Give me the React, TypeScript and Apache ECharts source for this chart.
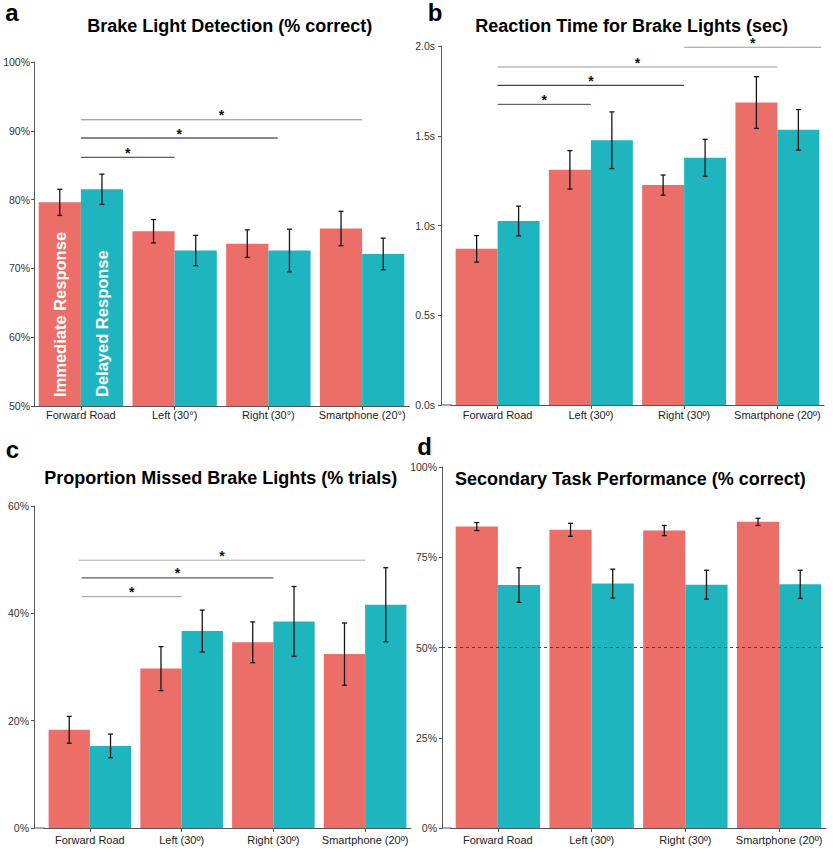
import React, { useEffect, useRef } from "react";
import * as echarts from "echarts";

// ---------- data ----------
const seriesNames = ["Immediate Response", "Delayed Response"];
const categoriesA = ["Forward Road", "Left (30°)", "Right (30°)", "Smartphone (20°)"];
const categoriesB = ["Forward Road", "Left (30º)", "Right (30º)", "Smartphone (20º)"];

// a: Brake Light Detection (% correct)
const detectImmediate = [79.6, 75.4, 73.6, 75.8];
const detectImmediateErr = [1.9, 1.7, 2.0, 2.5];
const detectDelayed = [81.5, 72.6, 72.6, 72.1];
const detectDelayedErr = [2.2, 2.2, 3.1, 2.3];
const detectTicks = [50, 100, 10];

// b: Reaction Time for Brake Lights (sec)
const rtImmediate = [0.87, 1.31, 1.225, 1.685];
const rtImmediateErr = [0.074, 0.107, 0.056, 0.144];
const rtDelayed = [1.025, 1.475, 1.377, 1.533];
const rtDelayedErr = [0.083, 0.158, 0.103, 0.113];
const rtTicks = [0, 2, 0.5];

// c: Proportion Missed Brake Lights (% trials)
const missImmediate = [18.3, 29.7, 34.6, 32.4];
const missImmediateErr = [2.5, 4.1, 3.8, 5.8];
const missDelayed = [15.3, 36.7, 38.5, 41.6];
const missDelayedErr = [2.2, 3.9, 6.5, 6.9];
const missTicks = [0, 60, 20];

// d: Secondary Task Performance (% correct)
const secImmediate = [83.5, 82.6, 82.4, 84.8];
const secImmediateErr = [1.1, 1.8, 1.4, 1.0];
const secDelayed = [67.3, 67.7, 67.4, 67.5];
const secDelayedErr = [4.8, 4.0, 4.0, 3.9];
const secTicks = [0, 100, 25];
const secChance = 50;

// significance brackets: [from category, to category, value]
const sigA = [[0, 1, 86.15], [0, 2.1, 88.95], [0, 3, 91.6]];
const sigB = [[0, 1, 1.675], [0, 2, 1.781], [0, 3, 1.883], [2, 3.47, 1.993]];
const sigC = [[-0.09, 1, 43.1], [-0.09, 2, 46.6], [-0.12, 3, 49.9]];

const titles = [
  "Brake Light Detection (% correct)",
  "Reaction Time for Brake Lights (sec)",
  "Proportion Missed Brake Lights (% trials)",
  "Secondary Task Performance (% correct)",
];
const panelLetters = ["a", "b", "c", "d"];

// ---------- styles ----------
const FONT = '"Liberation Sans", Arial, Helvetica, sans-serif';
const RED = "#EC6E68";
const TEAL = "#1EB5BF";
const AXIS = "#555555";

const grids = [
  { left: 34, top: 62, width: 375, height: 344 },
  { left: 451, top: 46, width: 373, height: 359 },
  { left: 44, top: 506, width: 367, height: 322 },
  { left: 451, top: 467, width: 375, height: 361 },
];
const yOffsets = [0, 10, 10, 9];
const yLabelMargins = [4, 6, 5, 5];
const xLabelMargins = [3, 4, 6, 6];
const titlePos = [[229.7, 25.5], [631.7, 25.5], [220.8, 477.8], [630.3, 479.1]];
const letterPos = [[12, 12.7], [435, 12], [12.5, 449], [424.5, 446]];
const bracketColors = [
  ["#333333", "#111111", "#888888"],
  ["#444444", "#111111", "#999999", "#999999"],
  ["#999999", "#333333", "#aaaaaa"],
];

function txtStyle(text: string, font: string, fill: string) {
  return {
    text,
    font,
    fill,
    align: "center",
    verticalAlign: "middle",
    textAlign: "center",
    textVerticalAlign: "middle",
  };
}

function barSeries(g: number, name: string, values: number[], color: string, withLabel: boolean) {
  return {
    type: "bar",
    name,
    xAxisIndex: g,
    yAxisIndex: g,
    barGap: "0%",
    barCategoryGap: "10%",
    itemStyle: { color },
    z: 2,
    data: values.map((v, i) =>
      withLabel && i === 0
        ? {
            value: v,
            label: {
              show: true,
              formatter: "{a}",
              position: "insideBottom",
              rotate: 90,
              align: "left",
              verticalAlign: "middle",
              distance: 9,
              color: "#ffffff",
              fontWeight: "bold",
              fontSize: 16.5,
              fontFamily: FONT,
            },
          }
        : v
    ),
  };
}

function errSeries(g: number, values: number[], errs: number[], side: number) {
  return {
    type: "custom",
    xAxisIndex: g,
    yAxisIndex: g,
    z: 6,
    silent: true,
    encode: { x: 0, y: [1, 2] },
    data: values.map((v, i) => [i, v - errs[i], v + errs[i]]),
    renderItem: (params: any, api: any) => {
      const i = api.value(0);
      const pLo = api.coord([i, api.value(1)]);
      const pHi = api.coord([i, api.value(2)]);
      const band = api.size([1, 0])[0];
      const x = pLo[0] + side * 0.225 * band;
      const w = 2.5;
      const st = { stroke: "#151515", lineWidth: 1.3 };
      return {
        type: "group",
        children: [
          { type: "line", shape: { x1: x, y1: pLo[1], x2: x, y2: pHi[1] }, style: st },
          { type: "line", shape: { x1: x - w, y1: pLo[1], x2: x + w, y2: pLo[1] }, style: st },
          { type: "line", shape: { x1: x - w, y1: pHi[1], x2: x + w, y2: pHi[1] }, style: st },
        ],
      };
    },
  };
}

function bracketSeries(g: number, brackets: number[][], colors: string[]) {
  return {
    type: "custom",
    xAxisIndex: g,
    yAxisIndex: g,
    z: 7,
    silent: true,
    data: brackets.map((b) => [0, b[2]]),
    renderItem: (params: any, api: any) => {
      const b = brackets[params.dataIndex];
      const c0 = api.coord([0, b[2]]);
      const band = api.size([1, 0])[0];
      const x1 = c0[0] + b[0] * band;
      const x2 = c0[0] + b[1] * band;
      const y = c0[1];
      return {
        type: "group",
        children: [
          {
            type: "line",
            shape: { x1, y1: y, x2, y2: y },
            style: { stroke: colors[params.dataIndex], lineWidth: 1 },
          },
          {
            type: "text",
            x: (x1 + x2) / 2,
            y: y - 4.5,
            style: txtStyle("*", "bold 14px " + FONT, "#111111"),
          },
        ],
      };
    },
  };
}

// extends the x axis line leftwards to the offset y axis; optional dashed reference line
function axisPatchSeries(g: number, yMin: number, offset: number, refValue: number | null) {
  const items: number[][] = [[0, yMin]];
  if (refValue !== null) items.push([0, refValue]);
  return {
    type: "custom",
    xAxisIndex: g,
    yAxisIndex: g,
    z: 4,
    silent: true,
    data: items,
    renderItem: (params: any, api: any) => {
      const p = api.coord([0, api.value(1)]);
      const band = api.size([1, 0])[0];
      const start = p[0] - band / 2 - offset;
      if (params.dataIndex === 0) {
        return {
          type: "line",
          shape: { x1: start, y1: p[1], x2: p[0] - band / 2 + 1, y2: p[1] },
          style: { stroke: AXIS, lineWidth: 1 },
        };
      }
      return {
        type: "line",
        shape: { x1: start, y1: p[1], x2: p[0] + 3.5 * band, y2: p[1] },
        style: { stroke: "#444444", lineWidth: 1, lineDash: [3, 3] },
      };
    },
  };
}

export default function App() {
  const ref = useRef<HTMLDivElement>(null);

  useEffect(() => {
    if (!ref.current) return;
    const chart = echarts.init(ref.current, null, { renderer: "svg" });

    const tickSets = [detectTicks, rtTicks, missTicks, secTicks];
    const cats = [categoriesA, categoriesB, categoriesB, categoriesB];
    const formatters = [
      (v: number) => v + "%",
      (v: number) => v.toFixed(1) + "s",
      (v: number) => v + "%",
      (v: number) => v + "%",
    ];

    const xAxis = cats.map((c, g) => ({
      type: "category",
      gridIndex: g,
      data: c,
      axisLine: { show: true, lineStyle: { color: AXIS, width: 1 } },
      axisTick: { show: true, alignWithLabel: true, length: 4, lineStyle: { color: AXIS } },
      axisLabel: { fontSize: 11, color: "#222222", fontFamily: FONT, margin: xLabelMargins[g], interval: 0 },
    }));

    const yAxis = tickSets.map((t, g) => ({
      type: "value",
      gridIndex: g,
      min: t[0],
      max: t[1],
      interval: t[2],
      offset: yOffsets[g],
      axisLine: { show: true, lineStyle: { color: AXIS, width: 1 } },
      axisTick: { show: true, length: 3, lineStyle: { color: AXIS } },
      splitLine: { show: false },
      axisLabel: {
        fontSize: 10.5,
        color: "#333333",
        fontFamily: FONT,
        margin: yLabelMargins[g],
        formatter: formatters[g],
      },
    }));

    const series: any[] = [
      barSeries(0, seriesNames[0], detectImmediate, RED, true),
      barSeries(0, seriesNames[1], detectDelayed, TEAL, true),
      errSeries(0, detectImmediate, detectImmediateErr, -1),
      errSeries(0, detectDelayed, detectDelayedErr, 1),
      bracketSeries(0, sigA, bracketColors[0]),

      barSeries(1, seriesNames[0], rtImmediate, RED, false),
      barSeries(1, seriesNames[1], rtDelayed, TEAL, false),
      errSeries(1, rtImmediate, rtImmediateErr, -1),
      errSeries(1, rtDelayed, rtDelayedErr, 1),
      bracketSeries(1, sigB, bracketColors[1]),
      axisPatchSeries(1, rtTicks[0], yOffsets[1], null),

      barSeries(2, seriesNames[0], missImmediate, RED, false),
      barSeries(2, seriesNames[1], missDelayed, TEAL, false),
      errSeries(2, missImmediate, missImmediateErr, -1),
      errSeries(2, missDelayed, missDelayedErr, 1),
      bracketSeries(2, sigC, bracketColors[2]),
      axisPatchSeries(2, missTicks[0], yOffsets[2], null),

      barSeries(3, seriesNames[0], secImmediate, RED, false),
      barSeries(3, seriesNames[1], secDelayed, TEAL, false),
      errSeries(3, secImmediate, secImmediateErr, -1),
      errSeries(3, secDelayed, secDelayedErr, 1),
      axisPatchSeries(3, secTicks[0], yOffsets[3], secChance),
    ];

    const graphic: any[] = [];
    titles.forEach((t, i) => {
      graphic.push({
        type: "text",
        x: titlePos[i][0],
        y: titlePos[i][1],
        silent: true,
        style: txtStyle(t, "bold 18px " + FONT, "#000000"),
      });
      graphic.push({
        type: "text",
        x: letterPos[i][0],
        y: letterPos[i][1],
        silent: true,
        style: txtStyle(panelLetters[i], "bold 24px " + FONT, "#000000"),
      });
    });

    chart.setOption({
      animation: false,
      backgroundColor: "#ffffff",
      textStyle: { fontFamily: FONT },
      grid: grids,
      xAxis,
      yAxis,
      series,
      graphic,
    });

    return () => chart.dispose();
  }, []);

  return (
    <div
      ref={ref}
      style={{ position: "absolute", left: 0, top: 0, width: 833, height: 857, background: "#fff" }}
    />
  );
}
